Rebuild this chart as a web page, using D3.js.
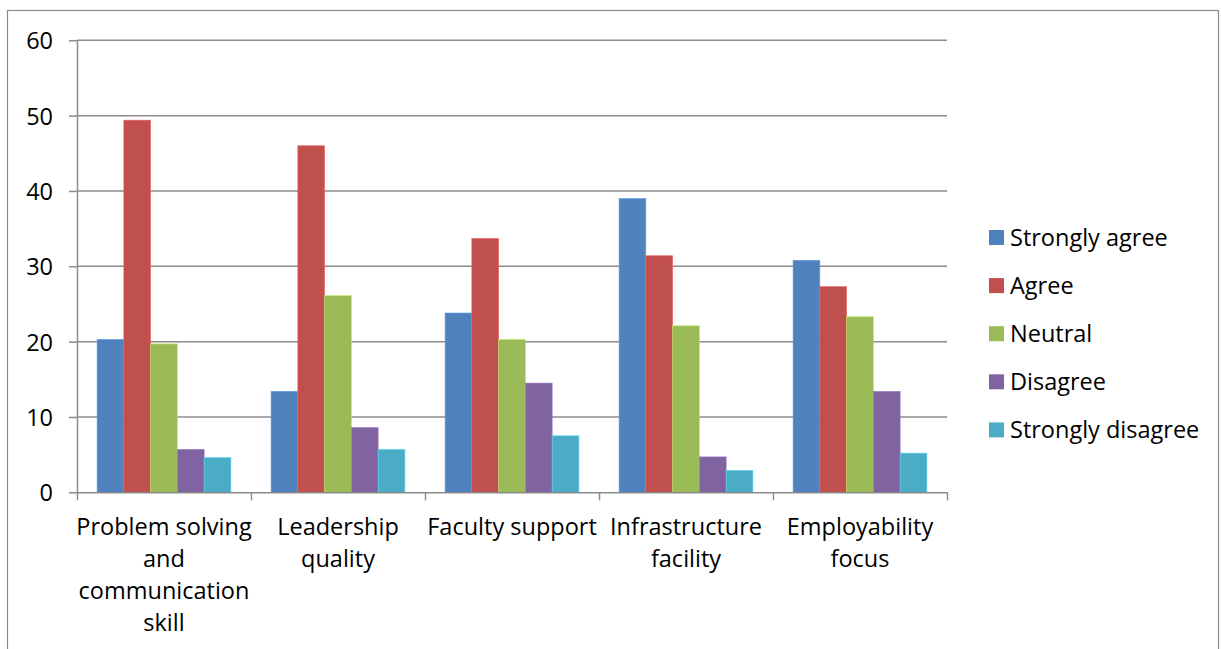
<!DOCTYPE html>
<html>
<head>
<meta charset="utf-8">
<script src="https://cdn.jsdelivr.net/npm/d3@7"></script>
<style>
  html, body { margin: 0; padding: 0; background: #fff; }
  svg { display: block; }
  text { font-family: "Open Sans", "Noto Sans", sans-serif; fill: #000; }
</style>
</head>
<body>
<svg id="chart" width="1221" height="649"></svg>
<script>
// Survey responses (%) per aspect
const categories = [
  ["Problem solving", "and", "communication", "skill"],
  ["Leadership", "quality"],
  ["Faculty support"],
  ["Infrastructure", "facility"],
  ["Employability", "focus"]
];
const seriesNames = ["Strongly agree", "Agree", "Neutral", "Disagree", "Strongly disagree"];
const seriesColors = ["#4F81BD", "#C0504D", "#9BBB59", "#8064A2", "#4BACC6"];
const stronglyAgree    = [20.3, 13.4, 23.8, 39.0, 30.8];
const agree            = [49.4, 46.0, 33.7, 31.4, 27.3];
const neutral          = [19.7, 26.1, 20.3, 22.1, 23.3];
const disagree         = [5.7, 8.6, 14.5, 4.7, 13.4];
const stronglyDisagree = [4.6, 5.7, 7.5, 2.9, 5.2];
const yTicks = [0, 10, 20, 30, 40, 50, 60];

const series = [stronglyAgree, agree, neutral, disagree, stronglyDisagree];
const FONT_SIZE = 23.5;

const svg = d3.select("#chart");

// outer chart frame
svg.append("rect")
  .attr("x", 7.5).attr("y", 10.5)
  .attr("width", 1211).attr("height", 700)
  .attr("fill", "none").attr("stroke", "#8a8a8a").attr("stroke-width", 1.2);

const plotLeft = 77, plotRight = 947, plotTop = 40.3, plotBottom = 492.3;

const x0 = d3.scaleBand()
  .domain(d3.range(categories.length))
  .range([plotLeft, plotRight])
  .paddingInner(0).paddingOuter(0);

// Excel-style clustered columns: gap width 150% split on both sides of each cluster
const x1 = d3.scaleBand()
  .domain(d3.range(seriesNames.length))
  .range([0, x0.bandwidth()])
  .paddingOuter(0.75).paddingInner(0);

const y = d3.scaleLinear().domain([0, 60]).range([plotBottom, plotTop]);

// horizontal gridlines
svg.append("g")
  .selectAll("line")
  .data(yTicks.filter(t => t > 0))
  .join("line")
  .attr("x1", plotLeft).attr("x2", plotRight)
  .attr("y1", d => y(d)).attr("y2", d => y(d))
  .attr("stroke", "#8c8c8c").attr("stroke-width", 1.5);

// bars
const groups = svg.append("g")
  .selectAll("g")
  .data(categories.map((c, i) => i))
  .join("g")
  .attr("transform", i => `translate(${x0(i)},0)`);

groups.selectAll("rect")
  .data(i => series.map((s, k) => ({ k, v: s[i] })))
  .join("rect")
  .attr("x", d => x1(d.k))
  .attr("width", x1.bandwidth())
  .attr("y", d => y(d.v))
  .attr("height", d => y(0) - y(d.v))
  .attr("fill", d => seriesColors[d.k])
  .attr("stroke", d => d3.color(seriesColors[d.k]).brighter(0.6))
  .attr("stroke-width", 0.6);

// y axis
const yAxis = d3.axisLeft(y).tickValues(yTicks).tickSize(8).tickPadding(16).tickSizeOuter(0);
const gy = svg.append("g").attr("transform", `translate(${plotLeft},0)`).call(yAxis);
gy.select(".domain").attr("stroke", "#8c8c8c").attr("stroke-width", 1.5);
gy.selectAll(".tick line").attr("stroke", "#8c8c8c").attr("stroke-width", 1.5);
gy.selectAll(".tick text")
  .attr("font-size", FONT_SIZE)
  .attr("font-family", "'Open Sans', sans-serif")
  .attr("fill", "#000")
  .attr("dy", "0.36em");

// x axis with boundary ticks between categories
const xb = d3.scaleLinear().domain([0, categories.length]).range([plotLeft, plotRight]);
const gx = svg.append("g").attr("transform", `translate(0,${plotBottom})`)
  .call(d3.axisBottom(xb).tickValues(d3.range(categories.length + 1)).tickSize(8).tickSizeOuter(0).tickFormat(""));
gx.select(".domain").attr("stroke", "#8c8c8c").attr("stroke-width", 1.5);
gx.selectAll(".tick line").attr("stroke", "#8c8c8c").attr("stroke-width", 1.5);

// category labels
const lbl = svg.append("g").selectAll("text")
  .data(categories.map((c, i) => ({ c, i })))
  .join("text")
  .attr("text-anchor", "middle")
  .attr("font-size", FONT_SIZE)
  .attr("x", d => x0(d.i) + x0.bandwidth() / 2)
  .attr("y", 534.5);
lbl.selectAll("tspan")
  .data(d => d.c.map(line => ({ line, x: x0(d.i) + x0.bandwidth() / 2 })))
  .join("tspan")
  .attr("x", d => d.x)
  .attr("dy", (d, j) => j === 0 ? 0 : 32.3)
  .text(d => d.line);

// legend
const legend = svg.append("g").selectAll("g")
  .data(seriesNames.map((n, k) => ({ n, k })))
  .join("g")
  .attr("transform", d => `translate(989,${237.5 + d.k * 48.1})`);
legend.append("rect")
  .attr("x", 0).attr("y", -7.5).attr("width", 15).attr("height", 15)
  .attr("fill", d => seriesColors[d.k]);
legend.append("text")
  .attr("x", 21).attr("y", 0).attr("dy", "0.36em")
  .attr("font-size", FONT_SIZE)
  .text(d => d.n);
</script>
</body>
</html>
